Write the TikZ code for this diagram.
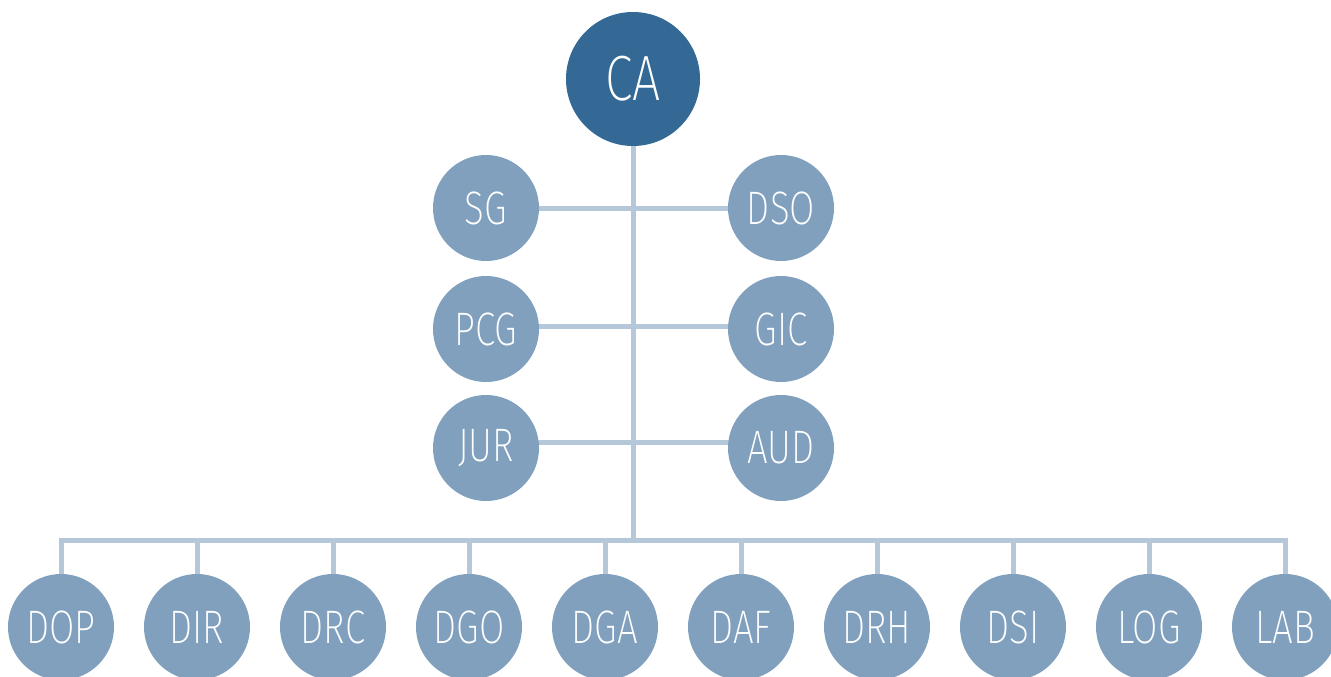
\documentclass[tikz,border=0pt]{standalone}
\usepackage{fontspec}
\setmainfont{Fira Sans ExtraLight}[FakeStretch=0.78]
\usetikzlibrary{backgrounds}
\definecolor{dark}{HTML}{336994}
\definecolor{mid}{HTML}{80A0BE}
\definecolor{lin}{HTML}{B4C8DA}
\begin{document}
\begin{tikzpicture}[x=1pt,y=-1pt,
  topnode/.style={circle,fill=dark,minimum size=134pt,inner sep=0pt,text=white,font=\fontsize{64}{64}\selectfont},
  unit/.style={circle,fill=mid,minimum size=106pt,inner sep=0pt,text=white,font=\fontsize{47}{47}\selectfont},
  link/.style={draw=lin,line width=5pt}]
\useasboundingbox (0,0) rectangle (1331,677);
\node[topnode] (CA) at (633,79) {CA};
\node[unit] (SG) at (486,208) {SG};
\node[unit] (DSO) at (781,208) {DSO};
\node[unit] (PCG) at (486,329) {PCG};
\node[unit] (GIC) at (781,329) {GIC};
\node[unit] (JUR) at (486,448) {JUR};
\node[unit] (AUD) at (781,448) {AUD};
\foreach \n [count=\i from 0] in {DOP,DIR,DRC,DGO,DGA,DAF,DRH,DSI,LOG,LAB}
  \node[unit] (\n) at ({61+136*\i},627) {\n};
\coordinate (trunk) at (633,540);
\begin{scope}[on background layer]
\draw[link] (CA) -- (trunk);
\draw[link] (SG) -- (DSO);
\draw[link] ([yshift=3pt]PCG.center) -- ([yshift=3pt]GIC.center);
\draw[link] ([yshift=6pt]JUR.center) -- ([yshift=6pt]AUD.center);
\draw[link] (DOP) |- (LAB |- trunk) -- (LAB);
\foreach \n in {DIR,DRC,DGO,DGA,DAF,DRH,DSI,LOG}
  \draw[link] (\n |- trunk) -- (\n);
\end{scope}
\end{tikzpicture}
\end{document}
